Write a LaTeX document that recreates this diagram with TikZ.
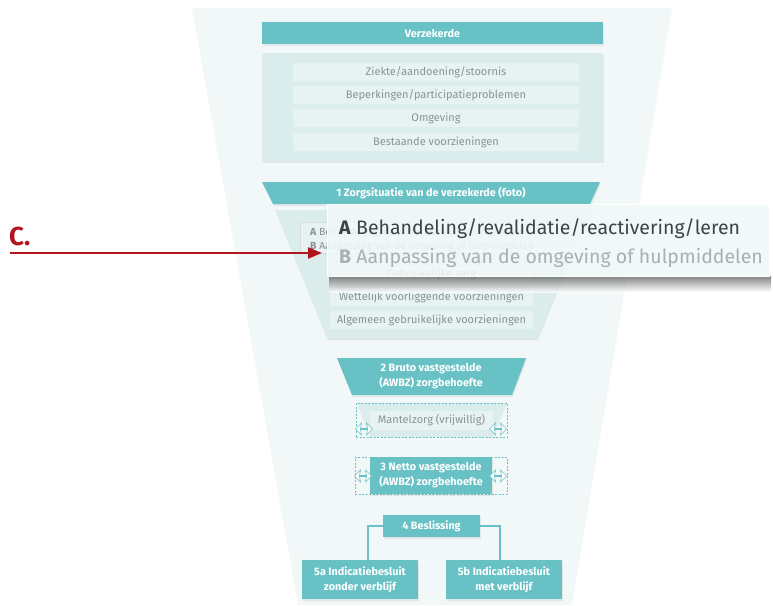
\documentclass[tikz,border=0pt]{standalone}
\usepackage{fontspec}
\setmainfont{Fira Sans}
\usetikzlibrary{shapes.geometric,shapes.arrows,shadows,arrows.meta}
\definecolor{tealc}{HTML}{67C1C5}
\definecolor{panelc}{HTML}{DAECEC}
\definecolor{rowc}{HTML}{E7F3F3}
\definecolor{funnelc}{HTML}{F2F8F8}
\definecolor{txtg}{HTML}{8A9292}
\definecolor{redc}{HTML}{B3151F}
\definecolor{darkt}{HTML}{3E4343}
\definecolor{lightt}{HTML}{AAB0B0}
\tikzset{
  tealbox/.style={fill=tealc, text=white, font=\fontsize{10.8}{15}\selectfont\bfseries, align=center, inner sep=0pt,
    drop shadow={opacity=0.15, shadow xshift=1pt, shadow yshift=-2pt}},
  panelbox/.style={fill=panelc, inner sep=0pt, drop shadow={opacity=0.15, shadow xshift=1pt, shadow yshift=-2pt}},
  rowbox/.style={fill=rowc, text=txtg, font=\fontsize{11}{13}\selectfont, inner sep=0pt, minimum height=18},
  dashbox/.style={draw=tealc, dashed, line width=0.5pt, dash pattern=on 2pt off 1.5pt},
  dblarrow/.style={double arrow, draw=tealc, fill=white, line width=0.6pt, minimum width=12pt, minimum height=17pt,
    double arrow head extend=3.5pt, double arrow head indent=1pt, inner sep=0pt},
  conn/.style={draw=tealc, line width=1.5pt},
  redarrow/.style={draw=redc, line width=2.5pt, -{Triangle[length=14pt,width=11pt]}},
}
\begin{document}
\begin{tikzpicture}[x=1pt,y=-1pt]
\useasboundingbox (0,0) rectangle (773,605);
% background funnel
\fill[funnelc] (192,8) -- (672,8) -- (572,605) -- (298,605) -- cycle;

% Verzekerde
\node[tealbox, minimum width=341, minimum height=22] (verz) at (432.5,33) {Verzekerde};
\node[panelbox, minimum width=341, minimum height=108] (panel) at (432.5,107) {};
\node[rowbox, minimum width=286] (r1) at (436,72) {Ziekte/aandoening/stoornis};
\node[rowbox, minimum width=286] (r2) at (436,95) {Beperkingen/participatieproblemen};
\node[rowbox, minimum width=286] (r3) at (436,118) {Omgeving};
\node[rowbox, minimum width=286] (r4) at (436,142) {Bestaande voorzieningen};

% 1 Zorgsituatie
\fill[panelc, drop shadow={opacity=0.15, shadow xshift=1pt, shadow yshift=-2pt}] (275,210) -- (589,210) -- (537,338) -- (327,338) -- cycle;
\fill[tealc, drop shadow={opacity=0.12, shadow xshift=1pt, shadow yshift=-2pt}] (262,182) -- (600,182) -- (590,204) -- (273,204) -- cycle;
\node[text=white, font=\fontsize{10.8}{13}\selectfont\bfseries] (zorg) at (431,193) {1 Zorgsituatie van de verzekerde (foto)};
\draw[draw=white!70!gray, line width=0.4pt, fill=rowc] (300,222) rectangle (575,253);
\node[anchor=base west, text=txtg, font=\fontsize{10.3}{12}\selectfont, inner sep=0pt] (sa) at (310,235) {\textbf{A} Behandeling/revalidatie/reactivering/leren};
\node[anchor=base west, text=txtg, font=\fontsize{10.3}{12}\selectfont, inner sep=0pt] (sb) at (310,249) {\textbf{B} Aanpassing van de omgeving of hulpmiddelen};
\node[rowbox, minimum width=203, draw=white!75!gray, line width=0.4pt] (g1) at (431.5,274.5) {Gebruikelijke zorg};
\node[rowbox, minimum width=203] (g2) at (431.5,297) {Wettelijk voorliggende voorzieningen};
\node[rowbox, minimum width=203] (g3) at (431.5,320) {Algemeen gebruikelijke voorzieningen};

% callout
\shade[top color=black!65, bottom color=white, opacity=0.75] (329,276) rectangle (771,292);
\node[draw=white, line width=1.8pt, fill=rowc!60!white, fill opacity=0.88, minimum width=442, minimum height=72, inner sep=0pt] (callout) at (548.5,240.5) {};
\node[anchor=base west, inner sep=0pt, text=darkt, font=\fontsize{19.5}{22}\selectfont] (ca) at (339,234) {\textbf{A} Behandeling/revalidatie/reactivering/leren};
\node[anchor=base west, inner sep=0pt, text=lightt, font=\fontsize{19.5}{22}\selectfont] (cb) at (339,263) {\textbf{B} Aanpassing van de omgeving of hulpmiddelen};

% red C
\node[anchor=base west, inner sep=0pt, text=redc, font=\fontsize{26}{28}\selectfont\bfseries] (clab) at (9,245) {C.};
\coordinate (arrS) at (10,253);
\coordinate (arrE) at (322,253);
\draw[redarrow] (arrS) -- (arrE);

% 2 Bruto
\fill[tealc, drop shadow={opacity=0.12, shadow xshift=1pt, shadow yshift=-2pt}] (337,358) -- (526,358) -- (512,395) -- (352,395) -- cycle;
\node[text=white, font=\fontsize{10.8}{15}\selectfont\bfseries, align=center] (bruto) at (431,376.5) {2 Bruto vastgestelde\\(AWBZ) zorgbehoefte};

% Mantelzorg
\fill[panelc] (357,403) -- (507,403) -- (493,437) -- (370,437) -- cycle;
\node[dashbox, minimum width=151, minimum height=34, inner sep=0pt] (mdash) at (431.5,420) {};
\node[rowbox, minimum width=123, minimum height=19] (mantel) at (431.5,420.5) {Mantelzorg (vrijwillig)};
\node[dblarrow] (ma1) at (364,429) {};
\node[dblarrow] (ma2) at (498,429) {};

% 3 Netto
\node[dashbox, minimum width=152, minimum height=37, inner sep=0pt] (ndash) at (431,475.5) {};
\node[tealbox, minimum width=122, minimum height=37] (netto) at (431,475.5) {3 Netto vastgestelde\\(AWBZ) zorgbehoefte};
\node[dblarrow] (na1) at (363,476) {};
\node[dblarrow] (na2) at (498,476) {};

% 4 Beslissing
\node[tealbox, minimum width=97, minimum height=22] (besl) at (431.5,526) {4 Beslissing};
\node[tealbox, minimum width=116, minimum height=39] (b5a) at (360,579.5) {5a Indicatiebesluit\\zonder verblijf};
\node[tealbox, minimum width=116, minimum height=39] (b5b) at (504,579.5) {5b Indicatiebesluit\\met verblijf};
\draw[conn] (besl.west) -| ([xshift=8pt]b5a.north);
\draw[conn] (besl.east) -| ([xshift=-4pt]b5b.north);
\end{tikzpicture}
\end{document}
